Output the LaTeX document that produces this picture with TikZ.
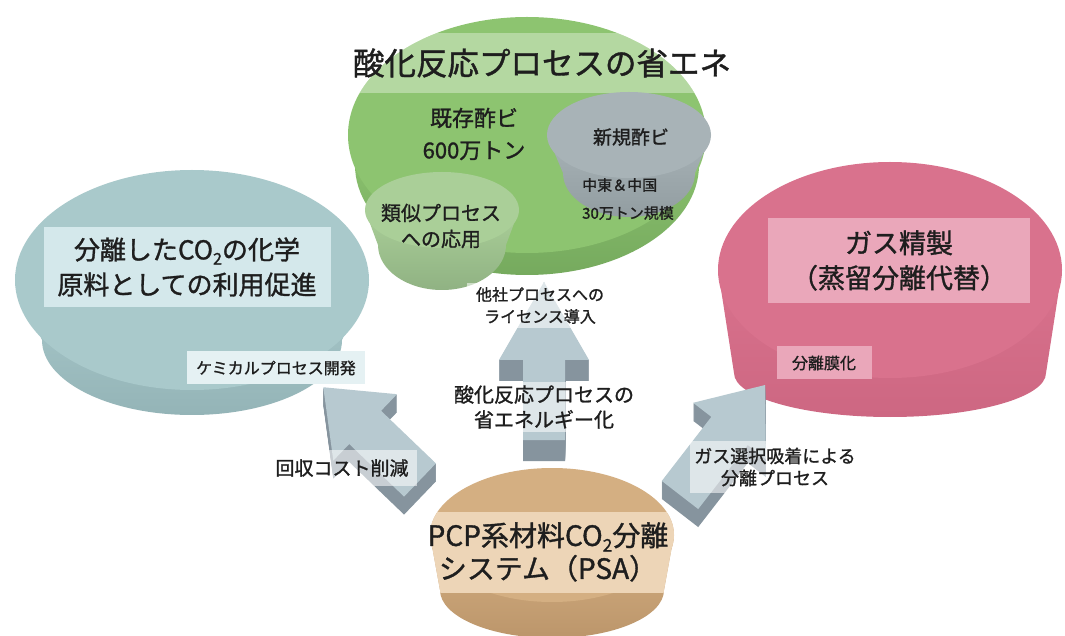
\documentclass[tikz,border=0pt]{standalone}
\usepackage{fontspec}
\setmainfont{Noto Sans CJK JP}[FakeBold=1.2]
\usepackage{graphicx}
\definecolor{greentop}{HTML}{8DC470}
\definecolor{greenside}{HTML}{76AA5E}
\definecolor{lgtop}{HTML}{AACF98}
\definecolor{lgside}{HTML}{90B283}
\definecolor{greytop}{HTML}{A8B3B7}
\definecolor{greyside}{HTML}{929DA1}
\definecolor{bluetop}{HTML}{A9C9CB}
\definecolor{blueside}{HTML}{94B4B7}
\definecolor{bluebox}{HTML}{D4E8EB}
\definecolor{pinktop}{HTML}{D9728D}
\definecolor{pinkside}{HTML}{CD6782}
\definecolor{pinkbox}{HTML}{EAA7BA}
\definecolor{orangetop}{HTML}{D4AF82}
\definecolor{orangeside}{HTML}{BC966B}
\definecolor{orangeband}{HTML}{EDD5B7}
\definecolor{arrtopc}{HTML}{B7C9D0}
\definecolor{arrsidec}{HTML}{86949E}
\definecolor{ink}{HTML}{1E1E1E}
\tikzset{
  lbl/.style={text=ink, inner sep=0pt, align=center},
  band/.style={fill=white, fill opacity=0.55, text opacity=1, text=ink, inner sep=0pt, align=center},
  boxlbl/.style={text=ink, inner sep=0pt, align=center},
  arrtop/.style={fill=arrtopc},
  arrside/.style={fill=arrsidec}
}
% disc: cx, cy, rx, ry, depth, rx2, ry2, top colour, side colour
\newcommand{\discpath}[7]{({#1-#3},#2) -- ({#1-#6},{#2-#5})
     arc[start angle=180, end angle=360, x radius=#6, y radius=#7] -- ({#1+#3},#2) -- cycle
     (#1,#2) ellipse [x radius=#3, y radius=#4]}
\newcommand{\disc}[9]{%
  \shade[top color=#8, middle color=#8, bottom color=#9] ({#1-#3},#2) -- ({#1-#6},{#2-#5})
     arc[start angle=180, end angle=360, x radius=#6, y radius=#7] -- ({#1+#3},#2) -- cycle;
  \fill[#8] (#1,#2) ellipse [x radius=#3, y radius=#4];
}
% block arrow: base x, base y, angle, length, head length, head half width, shaft half width, depth
\newcommand{\blockarr}[8]{%
  \foreach \dd in {1,...,#8}{%
    \begin{scope}[shift={(#1,#2-\dd)}, rotate=#3]
      \fill[arrside] (0,-#7) -- ({#4-#5},-#7) -- ({#4-#5},-#6) -- (#4,0) -- ({#4-#5},#6) -- ({#4-#5},#7) -- (0,#7) -- cycle;
    \end{scope}}
  \begin{scope}[shift={(#1,#2)}, rotate=#3]
    \fill[arrtop] (0,-#7) -- ({#4-#5},-#7) -- ({#4-#5},-#6) -- (#4,0) -- ({#4-#5},#6) -- ({#4-#5},#7) -- (0,#7) -- cycle;
  \end{scope}
}
\newcommand{\cotwo}{CO\raisebox{-0.2em}{\scalebox{0.62}{2}}}
\begin{document}
\begin{tikzpicture}[x=1pt,y=1pt]
\useasboundingbox (0,0) rectangle (1065,635);
\fill[white] (0,0) rectangle (1065,635);

% green disc with title band
\coordinate (green) at (527,500);
\disc{527}{500}{179}{118}{30}{172}{110}{greentop}{greenside}
\begin{scope}
  \clip (527,500) ellipse [x radius=179, y radius=118];
  \fill[white, opacity=0.35] (300,542) rectangle (760,602);
\end{scope}
% grey disc
\coordinate (grey) at (629,500);
\disc{629}{500}{82}{43}{38}{66}{44}{greytop}{greyside}
% light green disc
\coordinate (lgreen) at (442,425);
\disc{442}{425}{77}{38}{35}{64}{45}{lgtop}{lgside}
% blue disc
\coordinate (blue) at (192,355);
\disc{192}{355}{177}{110}{60}{150}{75}{bluetop}{blueside}
% pink disc
\coordinate (pink) at (890,365);
\disc{890}{365}{172}{108}{103}{156}{44}{pinktop}{pinkside}

% arrows
\coordinate (upbase) at (544,195);
\blockarr{544}{195}{90}{158}{78}{45}{21}{21}
\coordinate (leftbase) at (420,155);
\blockarr{420}{155}{136.2}{134}{58}{46}{23}{18}
\coordinate (rightbase) at (680,140);
\blockarr{680}{140}{52.3}{139}{58}{46}{23}{18}

% orange disc
\coordinate (orange) at (552,100);
\disc{552}{100}{122}{67}{55}{112}{48}{orangetop}{orangeside}
\begin{scope}
  \clip \discpath{552}{100}{122}{67}{55}{112}{48};
  \fill[orangeband] (420,42) rectangle (676,123);
\end{scope}

% texts on green
\node[lbl, font=\fontsize{31.5}{36}\selectfont] (title) at (542,572) {酸化反応プロセスの省エネ};
\node[lbl, font=\fontsize{22}{32}\selectfont] (kizon) at (474,501) {既存酢ビ\\600万トン};
\node[lbl, font=\fontsize{19}{24}\selectfont] (shinki) at (631,498) {新規酢ビ};
\node[lbl, anchor=west, font=\fontsize{15}{18}\selectfont] (chuto) at (582,450) {中東＆中国};
\node[lbl, anchor=west, font=\fontsize{15}{18}\selectfont] (kibo) at (582,422) {30万トン規模};
\node[lbl, font=\fontsize{20}{26}\selectfont] (ruiji) at (441,409) {類似プロセス\\への応用};

% blue
\node[boxlbl, fill=bluebox, minimum width=287, minimum height=80, font=\fontsize{26}{35}\selectfont] (bluetxt) at (187,368) {分離した\cotwo の化学\\原料としての利用促進};
\node[boxlbl, fill=bluebox!60!white, minimum width=178, minimum height=33, font=\fontsize{16}{20}\selectfont] (chem) at (276,267) {ケミカルプロセス開発};

% pink
\node[boxlbl, fill=pinkbox, minimum width=262, minimum height=85, font=\fontsize{27}{35}\selectfont] (gas) at (899,374.5) {ガス精製\\（蒸留分離代替）};
\node[boxlbl, fill=pinkbox, minimum width=95, minimum height=33, font=\fontsize{16}{20}\selectfont] (maku) at (824,272) {分離膜化};

% orange
\node[lbl, font=\fontsize{28}{33}\selectfont] (pcp) at (548,83) {PCP系材料\cotwo 分離\\システム（PSA）};

% arrow labels
\node[band, minimum width=146, minimum height=45, font=\fontsize{16}{22}\selectfont] (lic) at (540,329.5) {他社プロセスへの\\ライセンス導入};
\node[band, minimum width=193, minimum height=50, font=\fontsize{20}{25}\selectfont] (save) at (544,228) {酸化反応プロセスの\\省エネルギー化};
\node[band, minimum width=150, minimum height=36, font=\fontsize{19}{24}\selectfont] (cost) at (342,167) {回収コスト削減};
\node[band, minimum width=170, minimum height=52, font=\fontsize{18}{22}\selectfont] (sel) at (775,168) {ガス選択吸着による\\分離プロセス};
\end{tikzpicture}
\end{document}
